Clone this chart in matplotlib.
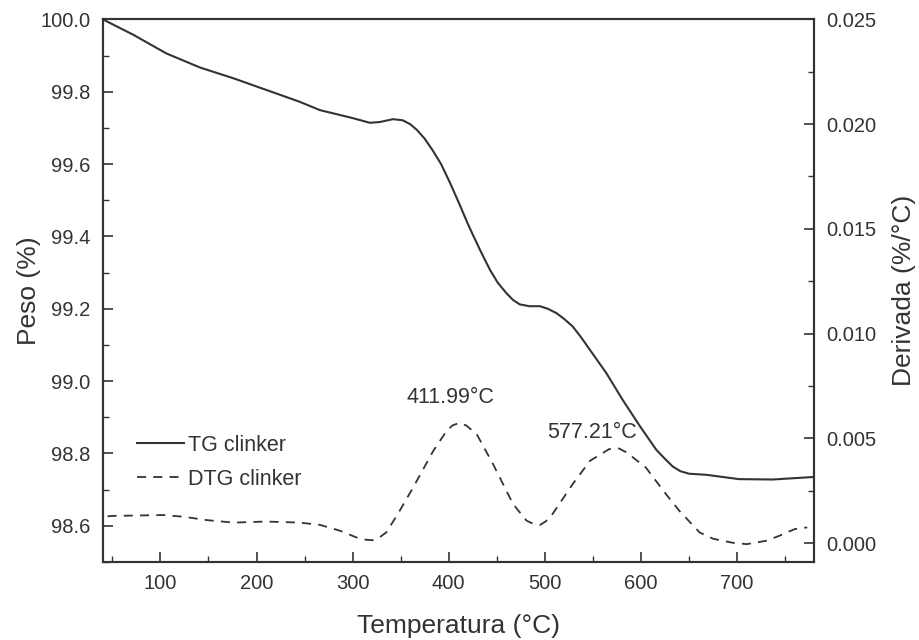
import numpy as np
import matplotlib
matplotlib.use("Agg")
import matplotlib.pyplot as plt
from matplotlib.ticker import MultipleLocator

plt.rcParams["font.family"] = ["Liberation Sans", "DejaVu Sans"]

# ── Data ──────────────────────────────────────────────────────────────────────
tg_temp = [40, 72, 106, 141, 176, 210, 245, 266, 280, 300, 318, 328, 342, 352,
           360, 367, 375, 383, 392, 401, 411, 419, 425, 433, 443, 451, 460, 467,
           474, 484, 495, 503, 512, 520, 529, 538, 547, 564, 581, 599, 616, 625,
           633, 641, 650, 668, 685, 702, 737, 780]
tg_mass = [100.0, 99.957, 99.906, 99.867, 99.837, 99.805, 99.772, 99.749, 99.740,
           99.727, 99.714, 99.716, 99.724, 99.721, 99.71, 99.694, 99.67, 99.639,
           99.60, 99.55, 99.49, 99.44, 99.405, 99.36, 99.307, 99.272, 99.243,
           99.224, 99.212, 99.207, 99.207, 99.200, 99.188, 99.172, 99.151, 99.12,
           99.086, 99.022, 98.948, 98.875, 98.81, 98.785, 98.764, 98.751, 98.744,
           98.741, 98.735, 98.729, 98.728, 98.735]

dtg_temp = [45, 51, 103, 124, 148, 176, 210, 245, 266, 287, 304, 314, 321, 327, 335,
            347, 363, 384, 398, 404, 411, 418, 429, 446, 467, 481, 488, 495, 501,
            508, 529, 547, 567, 577, 585, 605, 626, 640, 661, 675, 695, 710, 730,
            744, 760, 773]
dtg_val = [0.00128, 0.00130, 0.00134, 0.00126, 0.00110, 0.00098, 0.00103, 0.00098,
           0.00087, 0.00059, 0.00027, 0.00016, 0.00014, 0.00024, 0.00051, 0.00139,
           0.00266, 0.00441, 0.00537, 0.00562, 0.00574, 0.00562, 0.00521, 0.00378,
           0.00186, 0.00107, 0.00092, 0.00087, 0.00104, 0.00139, 0.00282, 0.00393,
           0.00449, 0.00452, 0.00433, 0.00361, 0.00234, 0.00154, 0.00051, 0.00021,
           0.00002, -0.00005, 0.00011, 0.00035, 0.00067, 0.00075]

peak_temp = [411.99, 577.21]
peak_label_pos = [(402, 0.00696), (549, 0.00529)]

line_col = "#333333"

# ── Figure ────────────────────────────────────────────────────────────────────
fig, ax = plt.subplots(figsize=(9.19, 6.4), dpi=100)
fig.subplots_adjust(left=0.1118, right=0.8857, bottom=0.1219, top=0.9698)
ax2 = ax.twinx()

l1, = ax.plot(tg_temp, tg_mass, color=line_col, lw=1.5, label="TG clinker")
l2, = ax2.plot(dtg_temp, dtg_val, color=line_col, lw=1.3, linestyle=(0, (5, 4)),
               label="DTG clinker")

ax.set_xlim(40, 780)
ax.set_ylim(98.5, 100.0)
ax2.set_ylim(-0.0009, 0.025)

ax.xaxis.set_major_locator(MultipleLocator(100))
ax.xaxis.set_minor_locator(MultipleLocator(50))
ax.yaxis.set_major_locator(MultipleLocator(0.2))
ax.yaxis.set_minor_locator(MultipleLocator(0.1))
ax2.yaxis.set_major_locator(MultipleLocator(0.005))
ax2.yaxis.set_minor_locator(MultipleLocator(0.0025))
ax.yaxis.set_major_formatter(plt.FormatStrFormatter("%.1f"))
ax2.yaxis.set_major_formatter(plt.FormatStrFormatter("%.3f"))

for a in (ax, ax2):
    for s in a.spines.values():
        s.set_linewidth(1.5)
        s.set_color(line_col)
    a.tick_params(which="major", direction="in", length=7, width=1.2,
                  labelsize=14.5, pad=9, color=line_col, labelcolor="#333333")
    a.tick_params(which="minor", direction="in", length=4, width=1.0, color=line_col)
ax.tick_params(axis="y", which="both", right=False)
ax.tick_params(axis="x", which="both", top=False)

ax.set_xlabel("Temperatura (°C)", fontsize=19, color="#333333")
ax.set_ylabel("Peso (%)", fontsize=19, color="#333333")
ax2.set_ylabel("Derivada (%/°C)", fontsize=19, color="#333333")
ax.xaxis.set_label_coords(0.5, -0.095)
ax.yaxis.set_label_coords(-0.087, 0.5)
ax2.yaxis.set_label_coords(1.110, 0.5)

for t, (xp, yp) in zip(peak_temp, peak_label_pos):
    ax2.text(xp, yp, f"{t:.2f}°C", ha="center", va="center", fontsize=15.5,
             color="#333333")

ax.legend(handles=[l1, l2], loc="center left", bbox_to_anchor=(0.048, 0.184),
          frameon=False, fontsize=15.5, borderpad=0, borderaxespad=0,
          handlelength=2.17, handletextpad=0.2, labelspacing=0.6,
          labelcolor="#333333")

plt.savefig("out.png", dpi=100)
plt.close()
